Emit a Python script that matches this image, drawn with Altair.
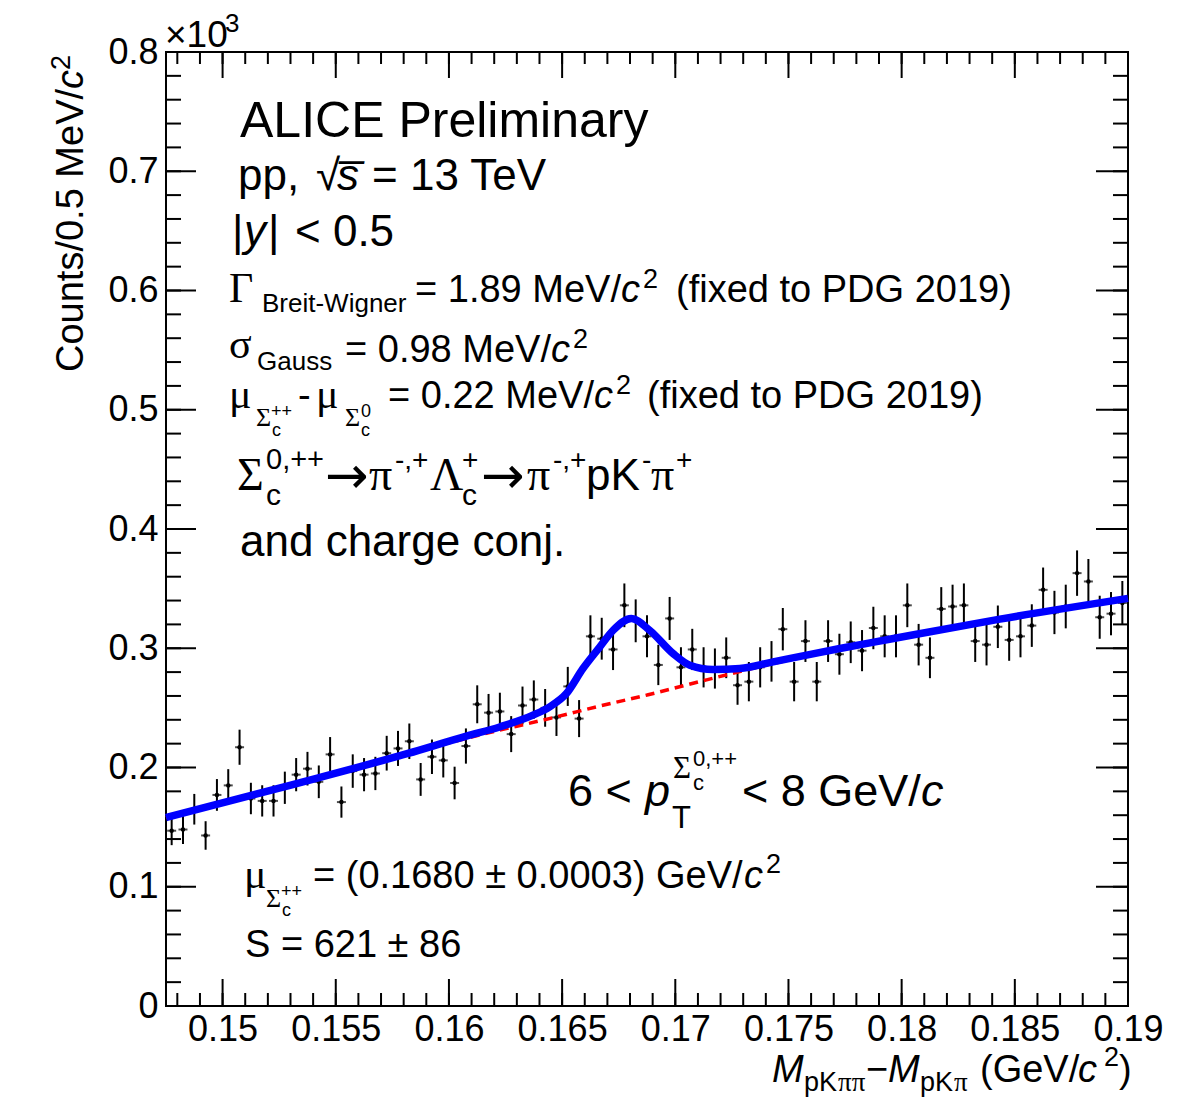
import altair as alt
import pandas as pd
import numpy as np

# ---------------- data (counts in units of 10^3 per 0.5 MeV/c^2 bin) ----------------
x_lo, x_hi = 0.1475, 0.19
bin_width = 0.0005
counts = [0.147, 0.148, 0.165, 0.143, 0.177, 0.185, 0.217, 0.174, 0.172, 0.172,
          0.183, 0.194, 0.199, 0.188, 0.211, 0.171, 0.197, 0.194, 0.195, 0.212,
          0.216, 0.222, 0.190, 0.209, 0.206, 0.187, 0.218, 0.253, 0.246, 0.247,
          0.228, 0.252, 0.257, 0.250, 0.242, 0.268, 0.241, 0.310, 0.308, 0.299,
          0.336, 0.323, 0.310, 0.286, 0.325, 0.284, 0.299, 0.284, 0.283, 0.292,
          0.269, 0.272, 0.284, 0.289, 0.316, 0.272, 0.306, 0.272, 0.306, 0.295,
          0.305, 0.298, 0.317, 0.310, 0.310, 0.336, 0.303, 0.292, 0.333, 0.335,
          0.336, 0.306, 0.303, 0.318, 0.307, 0.310, 0.319, 0.349, 0.330, 0.335,
          0.363, 0.356, 0.326, 0.329, 0.338]
bin_centers = [round(x_lo + bin_width * (i + 0.5), 5) for i in range(len(counts))]

# total fit (blue)
fit_x = [0.14750, 0.15310, 0.15819, 0.16077, 0.16224, 0.16371, 0.16445, 0.16519,
         0.16592, 0.16666, 0.16725, 0.16806, 0.16887, 0.16990, 0.17064, 0.17167,
         0.17285, 0.17432, 0.17580, 0.17727, 0.17940, 0.18434, 0.19000]
fit_y = [0.1580, 0.1857, 0.2118, 0.2263, 0.2340, 0.2439, 0.2509, 0.2620,
         0.2830, 0.3010, 0.3150, 0.3250, 0.3150, 0.2956, 0.2858, 0.2822,
         0.2830, 0.2886, 0.2942, 0.2998, 0.3073, 0.3244, 0.3418]
# background (red dashed)
bkg_x = [0.14750, 0.15310, 0.15819, 0.16077, 0.16475, 0.16666, 0.16880, 0.17138,
         0.17359, 0.17580, 0.17940, 0.18434, 0.19000]
bkg_y = [0.1580, 0.1857, 0.2115, 0.2245, 0.2425, 0.2515, 0.2610, 0.2735,
         0.2839, 0.2935, 0.3068, 0.3242, 0.3418]

x_major = [0.15, 0.155, 0.16, 0.165, 0.17, 0.175, 0.18, 0.185, 0.19]
x_minor = [round(0.148 + 0.001 * i, 3) for i in range(43)]
y_major = [0, 0.1, 0.2, 0.3, 0.4, 0.5, 0.6, 0.7, 0.8]
y_minor = [round(0.02 * i, 2) for i in range(41)]

# ---------------- layout ----------------
W, H = 962, 954
PADL, PADT = 158, 44
X0, Y0 = 8 + PADL, 8 + PADT  # page coords of plot origin

SANS = "Liberation Sans"
SERIF = "Liberation Serif"
ARROW = "DejaVu Sans"

xs = alt.Scale(domain=[x_lo, x_hi], nice=False, zero=False)
ys = alt.Scale(domain=[0, 0.8], nice=False, zero=False)
xax = alt.Axis(values=x_major, format="~g", title=None, ticks=False, tickSize=0,
               domain=False, grid=False, labelFont=SANS, labelFontSize=36,
               labelColor="black", labelPadding=6, labelFlush=False, labelOverlap=False)
yax = alt.Axis(values=y_major, format="~g", title=None, ticks=False, tickSize=0,
               domain=False, grid=False, labelFont=SANS, labelFontSize=36,
               labelColor="black", labelPadding=8, labelFlush=False, labelOverlap=False)

df = pd.DataFrame({"x": bin_centers, "y": counts})
df["err"] = np.sqrt(df["y"] * 1000.0) / 1000.0
df["lo"] = df["y"] - df["err"]
df["hi"] = df["y"] + df["err"]

base = alt.Chart(df)
err_bars = base.mark_rule(color="black", strokeWidth=2).encode(
    x=alt.X("x:Q", scale=xs, axis=xax),
    y=alt.Y("lo:Q", scale=ys, axis=yax),
    y2="hi:Q")
cross = base.mark_tick(color="black", orient="horizontal", size=9, thickness=2).encode(
    x=alt.X("x:Q", scale=xs, axis=xax), y=alt.Y("y:Q", scale=ys, axis=yax))
dots = base.mark_point(filled=True, shape="circle", size=20, color="black", opacity=1).encode(
    x=alt.X("x:Q", scale=xs, axis=xax), y=alt.Y("y:Q", scale=ys, axis=yax))

bkg = alt.Chart(pd.DataFrame({"x": bkg_x, "y": bkg_y})).mark_line(
    color="#ff0000", strokeWidth=3.5, strokeDash=[9, 6], interpolate="monotone").encode(
    x=alt.X("x:Q", scale=xs, axis=xax), y=alt.Y("y:Q", scale=ys, axis=yax))
fit = alt.Chart(pd.DataFrame({"x": fit_x, "y": fit_y})).mark_line(
    color="#0000ff", strokeWidth=7.5, interpolate="monotone").encode(
    x=alt.X("x:Q", scale=xs, axis=xax), y=alt.Y("y:Q", scale=ys, axis=yax))


def xticks(vals, length, top):
    d = pd.DataFrame({"v": vals})
    if top:
        yy, yy2 = alt.value(0), alt.value(length)
    else:
        yy, yy2 = alt.value(H), alt.value(H - length)
    return alt.Chart(d).mark_rule(color="black", strokeWidth=2).encode(
        x=alt.X("v:Q", scale=xs, axis=xax), y=yy, y2=yy2)


def yticks(vals, length, right):
    d = pd.DataFrame({"v": vals})
    if right:
        xx, xx2 = alt.value(W), alt.value(W - length)
    else:
        xx, xx2 = alt.value(0), alt.value(length)
    return alt.Chart(d).mark_rule(color="black", strokeWidth=2).encode(
        y=alt.Y("v:Q", scale=ys, axis=yax), x=xx, x2=xx2)


tick_layers = [
    xticks(x_minor, 13, False), xticks(x_major, 27, False),
    xticks(x_minor, 12, True), xticks(x_major, 26, True),
    yticks(y_minor, 15, False), yticks(y_major, 30, False),
    yticks(y_minor, 15, True), yticks(y_major, 32, True),
]


def T(s, x, y, size, font=SANS, italic=False, angle=0):
    return alt.Chart(alt.Data(values=[{"t": s}])).mark_text(
        align="left", baseline="alphabetic", font=font,
        fontSize=size, fontStyle="italic" if italic else "normal",
        angle=angle, color="black").encode(
        x=alt.value(x - X0), y=alt.value(y - Y0), text="t:N")


texts = [
    # x10^3
    T("×10", 165, 47, 37), T("3", 225, 32, 26),
    # y title (rotated)
    T("Counts/0.5 MeV/", 83, 372, 38, angle=270),
    T("c", 83, 89, 38, italic=True, angle=270),
    T("2", 70, 70, 27, angle=270),
    # x title
    T("M", 772, 1082, 38, italic=True),
    T("pK", 804, 1091, 27), T("ππ", 838, 1091, 27, font=SERIF),
    T("−", 866, 1082, 38),
    T("M", 888, 1082, 38, italic=True),
    T("pK", 920, 1091, 27), T("π", 954, 1091, 27, font=SERIF),
    T("(GeV/", 980, 1082, 38), T("c", 1078, 1082, 38, italic=True),
    T("2", 1104, 1066, 27), T(")", 1119, 1082, 38),
    # header
    T("ALICE Preliminary", 240, 137, 50),
    T("pp,", 238, 190, 44), T("√", 316, 190, 44), T("s̅", 337, 190, 44, italic=True),
    T("= 13 TeV", 372, 190, 44),
    T("|", 232, 246, 44), T("y", 244, 246, 44, italic=True), T("|", 268, 246, 44),
    T("< 0.5", 295, 246, 44),
    # Gamma line
    T("Γ", 229, 302, 42, font=SERIF), T("Breit-Wigner", 262, 312, 26),
    T("= 1.89 MeV/", 415, 302, 38), T("c", 621, 302, 38, italic=True),
    T("2", 643, 288, 27), T("(fixed to PDG 2019)", 676, 302, 38),
    # sigma line
    T("σ", 229, 358, 42, font=SERIF), T("Gauss", 257, 370, 26),
    T("= 0.98 MeV/", 345, 362, 38), T("c", 551, 362, 38, italic=True),
    T("2", 573, 348, 27),
    # mu difference line
    T("μ", 229, 408, 42, font=SERIF),
    T("Σ", 256, 426, 26, font=SERIF), T("c", 272, 436, 18), T("++", 271, 417, 18),
    T("-", 298, 408, 38),
    T("μ", 316, 408, 42, font=SERIF),
    T("Σ", 345, 426, 26, font=SERIF), T("c", 361, 436, 18), T("0", 361, 417, 18),
    T("= 0.22 MeV/", 388, 408, 38), T("c", 594, 408, 38, italic=True),
    T("2", 616, 394, 27), T("(fixed to PDG 2019)", 647, 408, 38),
    # decay chain
    T("Σ", 237, 490, 46, font=SERIF), T("c", 266, 505, 30), T("0,++", 266, 469, 29),
    T("→", 325, 493, 52, font=ARROW),
    T("π", 369, 490, 46, font=SERIF), T("-,+", 395, 469, 28),
    T("Λ", 430, 490, 46, font=SERIF), T("c", 462, 505, 30), T("+", 462, 469, 28),
    T("→", 481, 493, 52, font=ARROW),
    T("π", 527, 490, 46, font=SERIF), T("-,+", 553, 469, 28),
    T("pK", 586, 490, 44), T("-", 642, 469, 28),
    T("π", 651, 490, 46, font=SERIF), T("+", 676, 469, 28),
    T("and charge conj.", 240, 556, 44),
    # pT range
    T("6 <", 568, 806, 45), T("p", 645, 806, 45, italic=True),
    T("T", 672, 828, 31),
    T("Σ", 673, 778, 31, font=SERIF), T("c", 693, 790, 22), T("0,++", 693, 766, 22),
    T("< 8 GeV/", 742, 806, 45), T("c", 921, 806, 45, italic=True),
    # results
    T("μ", 244, 888, 42, font=SERIF),
    T("Σ", 266, 907, 26, font=SERIF), T("c", 282, 916, 18), T("++", 281, 897, 18),
    T("= (0.1680 ± 0.0003) GeV/", 313, 888, 38), T("c", 744, 888, 38, italic=True),
    T("2", 766, 873, 27),
    T("S = 621 ± 86", 245, 957, 38),
]

chart = alt.layer(*tick_layers, err_bars, cross, dots, bkg, fit, *texts).properties(
    width=W, height=H,
    padding={"left": PADL, "top": PADT, "right": 50, "bottom": 92},
    autosize=alt.AutoSizeParams(type="none"),
    background="white",
).configure_view(stroke="black", strokeWidth=2)

chart.save("out.html", embed_options={"renderer": "svg", "actions": False})
